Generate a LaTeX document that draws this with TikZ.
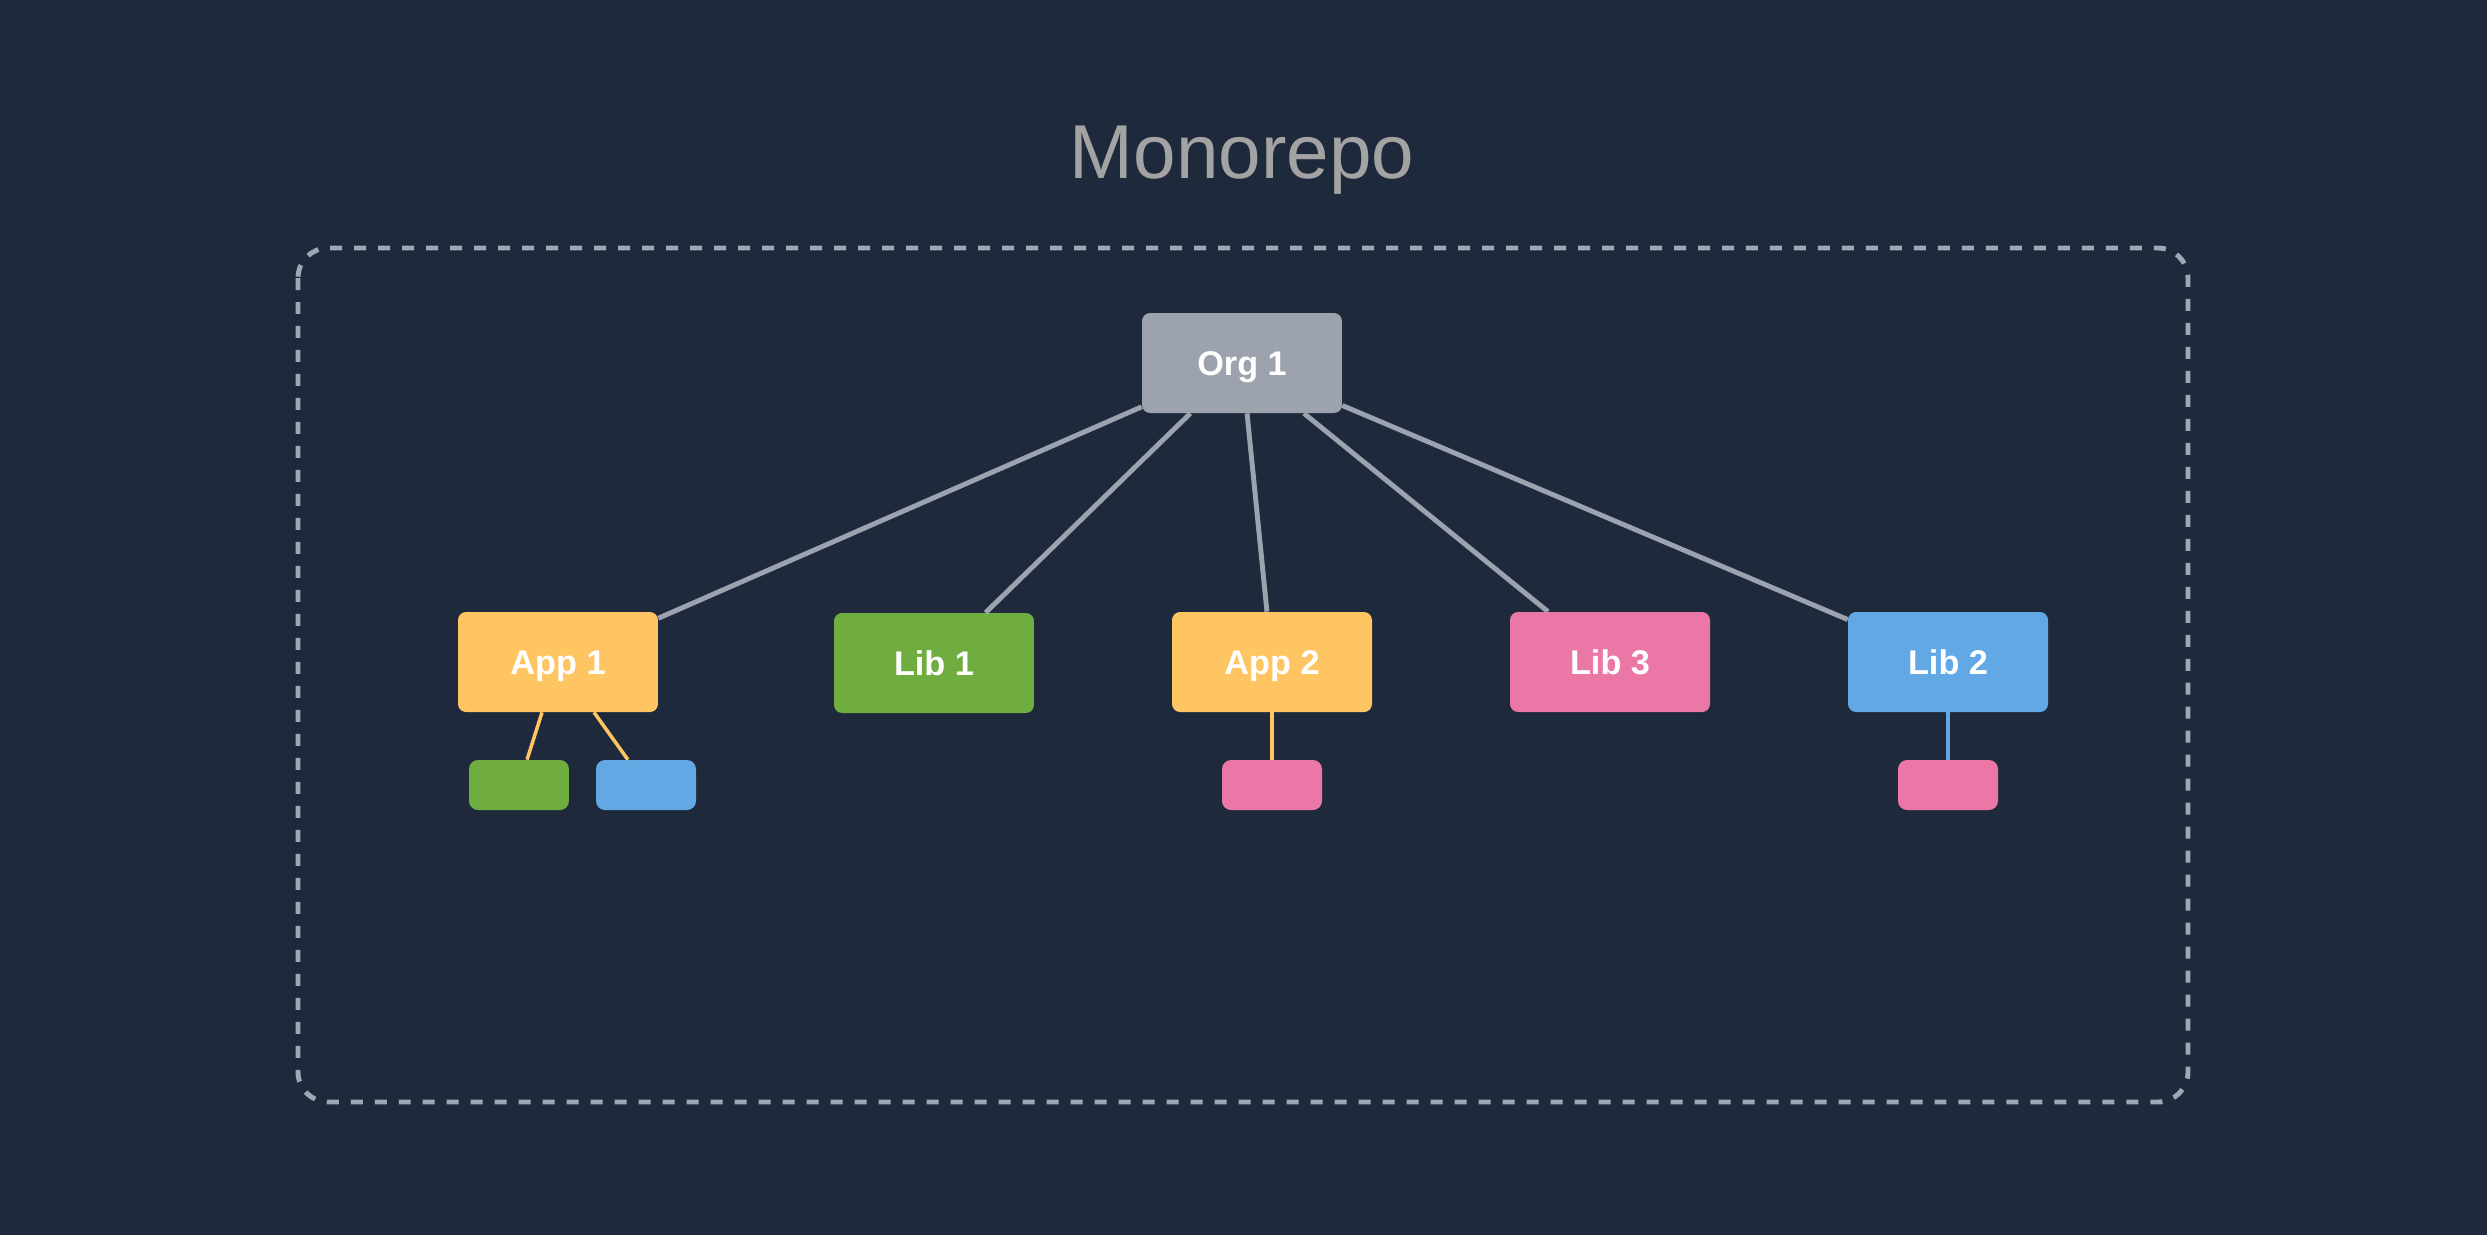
\documentclass[tikz,border=0pt]{standalone}
\usepackage{fontspec}
\setmainfont{Liberation Sans}
\definecolor{bgslate}{HTML}{1E293B}
\definecolor{orggray}{HTML}{9CA3AF}
\definecolor{linkgray}{HTML}{9CA3AF}
\definecolor{frame}{HTML}{A0A7B4}
\definecolor{titlegray}{HTML}{A3A3A3}
\definecolor{appyellow}{HTML}{FEC562}
\definecolor{libgreen}{HTML}{70AD40}
\definecolor{libblue}{HTML}{62A8E5}
\definecolor{libpink}{HTML}{EA77A6}
\tikzset{
  pkg/.style={rectangle, rounded corners=0.16cm, minimum width=4cm, minimum height=2cm,
    inner sep=0pt, text height=0.5cm, text depth=0pt, text=white,
    font=\fontsize{19.5}{23}\selectfont\bfseries},
  dep/.style={rectangle, rounded corners=0.18cm, minimum width=2cm, minimum height=1cm, inner sep=0pt},
  link/.style={draw=linkgray, line width=2.8pt},
  sublink/.style={line width=2pt},
  repoframe/.style={draw=frame, line width=2.8pt, dash pattern=on 0.24cm off 0.24cm, rounded corners=0.6cm},
}
\begin{document}
\begin{tikzpicture}[x=0.02cm, y=-0.02cm]
  % canvas
  \fill[bgslate] (0,0) rectangle (2487,1235);
  \useasboundingbox (0,0) rectangle (2487,1235);

  % title
  \node[anchor=base, text=titlegray, font=\fontsize{43.5}{52}\selectfont] (title) at (1242,178) {Monorepo};

  % repository boundary
  \draw[repoframe] (298,248) rectangle (2188,1102);

  % packages
  \node[pkg, fill=orggray]    (org)  at (1242,363) {Org 1};
  \node[pkg, fill=appyellow]  (app1) at (558,662)  {App 1};
  \node[pkg, fill=libgreen]   (lib1) at (934,663)  {Lib 1};
  \node[pkg, fill=appyellow]  (app2) at (1272,662) {App 2};
  \node[pkg, fill=libpink]    (lib3) at (1610,662) {Lib 3};
  \node[pkg, fill=libblue]    (lib2) at (1948,662) {Lib 2};

  % dependencies
  \node[dep, fill=libgreen] (d1) at (519,785)  {};
  \node[dep, fill=libblue]  (d2) at (646,785)  {};
  \node[dep, fill=libpink]  (d3) at (1272,785) {};
  \node[dep, fill=libpink]  (d4) at (1948,785) {};

  % org links
  \draw[link] (org) -- (app1);
  \draw[link] (org) -- (lib1);
  \draw[link] (org) -- (app2);
  \draw[link] (org) -- (lib3);
  \draw[link] (org) -- (lib2);

  % dependency links
  \draw[sublink, draw=appyellow] (app1) -- (d1);
  \draw[sublink, draw=appyellow] (app1) -- (d2);
  \draw[sublink, draw=appyellow] (app2) -- (d3);
  \draw[sublink, draw=libblue]   (lib2) -- (d4);
\end{tikzpicture}
\end{document}
